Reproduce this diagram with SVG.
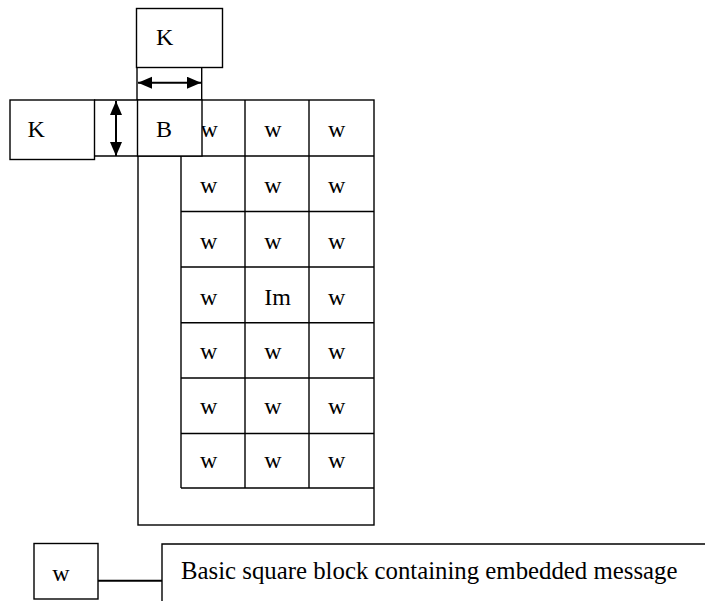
<svg xmlns="http://www.w3.org/2000/svg" width="705" height="601" viewBox="0 0 705 601">
<style>
.b{fill:none;stroke:#000;stroke-width:1.4}
.wb{fill:#fff;stroke:#000;stroke-width:1.4}
.t{font-family:"Liberation Serif","Times New Roman",serif;font-size:24px;fill:#000}
.lt{font-family:"Liberation Serif","Times New Roman",serif;font-size:24.8px;fill:#000}
.arr{stroke:#000;stroke-width:2;fill:none;marker-start:url(#ah);marker-end:url(#ah)}
</style>
<defs>
<marker id="ah" markerUnits="userSpaceOnUse" markerWidth="15" markerHeight="13" refX="14" refY="6" orient="auto-start-reverse">
<path d="M0,0 L14,6 L0,12 z" fill="#000"/>
</marker>
</defs>
<rect width="705" height="601" fill="#fff"/>

<g id="outer-frame">
<rect class="b" x="138" y="100" width="236" height="425"/>
<line class="b" x1="94" y1="100" x2="138" y2="100"/>
<line class="b" x1="94" y1="156" x2="374" y2="156"/>
</g>

<g id="k-left">
<rect class="b" x="10" y="100" width="84.5" height="59.5"/>
<text class="t" x="27.5" y="136.7">K</text>
</g>

<g id="k-top">
<rect class="b" x="136.5" y="8.5" width="86" height="59"/>
<text class="t" x="156" y="45">K</text>
<line class="b" x1="137" y1="67.5" x2="137" y2="100"/>
<line class="b" x1="201.7" y1="67.5" x2="201.7" y2="100"/>
</g>

<g id="row1">
<line class="b" x1="245" y1="100" x2="245" y2="156"/>
<line class="b" x1="309" y1="100" x2="309" y2="156"/>
<text class="t" x="200.5" y="136.7">w</text>
<text class="t" x="264.3" y="136.7">w</text>
<text class="t" x="328" y="136.7">w</text>
</g>

<g id="block-B">
<rect class="wb" x="137.5" y="100" width="64.5" height="56"/>
<text class="t" x="156" y="136.7">B</text>
</g>

<g id="grid">
<line class="b" x1="181" y1="156" x2="181" y2="488"/>
<line class="b" x1="245" y1="156" x2="245" y2="488"/>
<line class="b" x1="309" y1="156" x2="309" y2="488"/>
<line class="b" x1="181" y1="211.5" x2="374" y2="211.5"/>
<line class="b" x1="181" y1="267" x2="374" y2="267"/>
<line class="b" x1="181" y1="322.7" x2="374" y2="322.7"/>
<line class="b" x1="181" y1="378" x2="374" y2="378"/>
<line class="b" x1="181" y1="433.5" x2="374" y2="433.5"/>
<line class="b" x1="181" y1="488" x2="374" y2="488"/>
</g>

<g id="cells">
<text class="t" x="200" y="193">w</text><text class="t" x="264.3" y="193">w</text><text class="t" x="328" y="193">w</text>
<text class="t" x="200" y="248.5">w</text><text class="t" x="264.3" y="248.5">w</text><text class="t" x="328" y="248.5">w</text>
<text class="t" x="200" y="304.5">w</text><text class="t" x="264.3" y="304.5">Im</text><text class="t" x="328" y="304.5">w</text>
<text class="t" x="200" y="358.5">w</text><text class="t" x="264.3" y="358.5">w</text><text class="t" x="328" y="358.5">w</text>
<text class="t" x="200" y="413.5">w</text><text class="t" x="264.3" y="413.5">w</text><text class="t" x="328" y="413.5">w</text>
<text class="t" x="200" y="468">w</text><text class="t" x="264.3" y="468">w</text><text class="t" x="328" y="468">w</text>
</g>

<g id="legend-w">
<rect class="b" x="34" y="543.5" width="64" height="55.5"/>
<text class="t" x="52.3" y="581">w</text>
</g>

<g id="legend-label">
<polyline class="b" points="162,601 162,544 705,544"/>
<text class="lt" x="181" y="579">Basic square block containing embedded message</text>
</g>

<g id="connectors">
<line class="arr" x1="116" y1="101" x2="116" y2="156"/>
<line class="arr" x1="138" y1="82.7" x2="201" y2="82.7"/>
<line x1="98" y1="580.7" x2="162" y2="580.7" stroke="#000" stroke-width="2"/>
</g>
</svg>
